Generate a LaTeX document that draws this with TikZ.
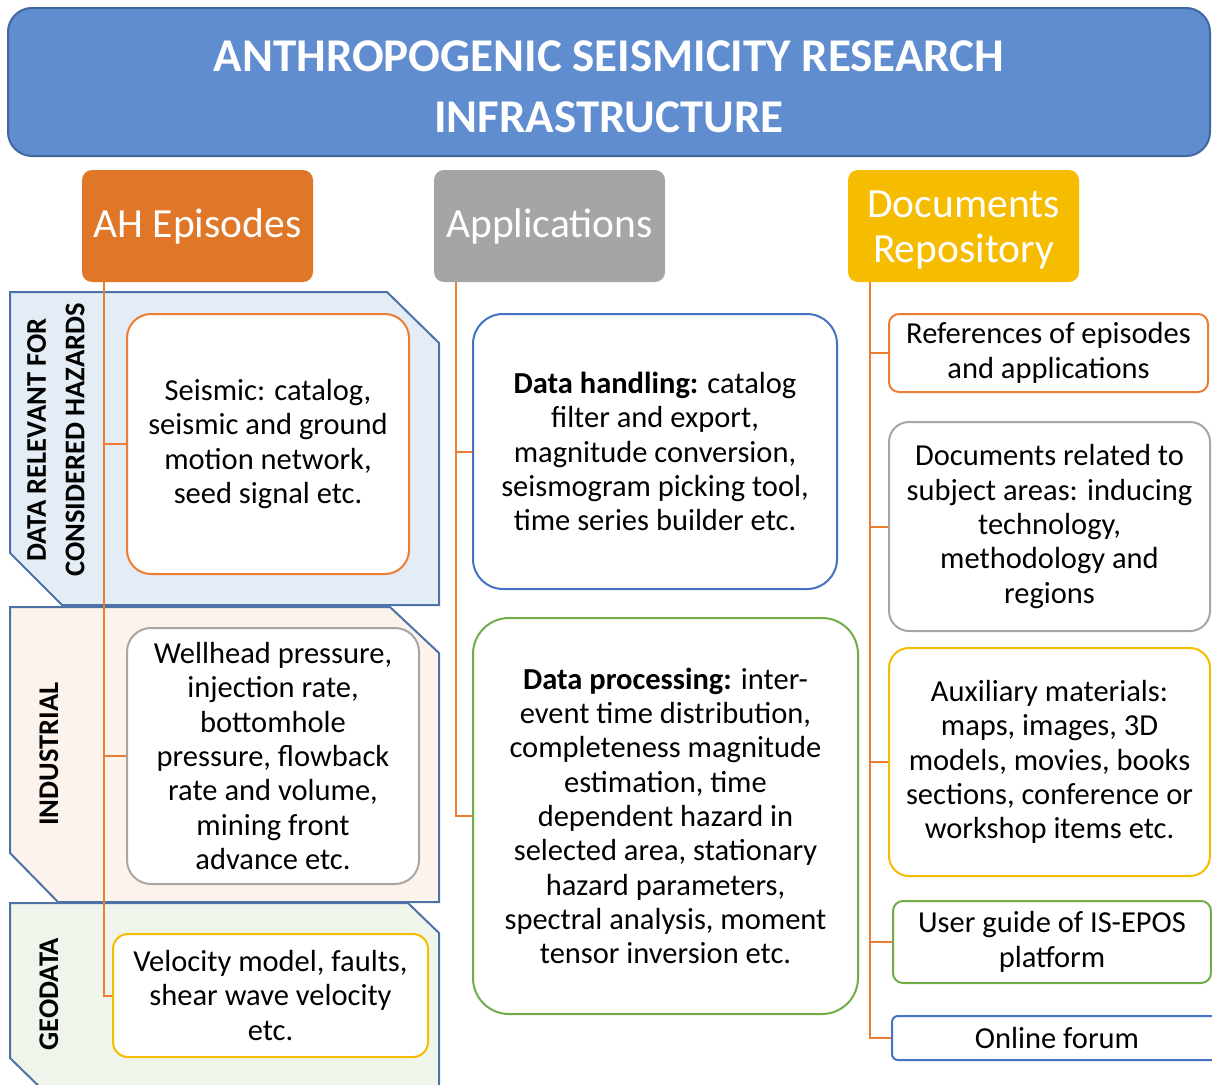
\documentclass[tikz,border=0pt]{standalone}
\usepackage{fontspec}
\setmainfont{Carlito}
\usetikzlibrary{calc}
\definecolor{titlefill}{HTML}{5F8DD0}
\definecolor{titledraw}{HTML}{41679F}
\definecolor{ahorange}{HTML}{E07628}
\definecolor{lineorange}{HTML}{ED7D31}
\definecolor{appgray}{HTML}{A5A5A5}
\definecolor{docgold}{HTML}{F5BC00}
\definecolor{boxblue}{HTML}{4472C4}
\definecolor{boxgreen}{HTML}{70AD47}
\definecolor{boxgray}{HTML}{A6A6A6}
\definecolor{panelblue}{HTML}{E4ECF6}
\definecolor{panelpeach}{HTML}{FCF3EC}
\definecolor{panelgreen}{HTML}{EFF5EA}
\definecolor{paneldraw}{HTML}{4E72A8}
\begin{document}
\begin{tikzpicture}[x=1pt,y=-1pt,
  head/.style={rounded corners=10pt, text=white, align=center,
    font=\fontsize{41.5}{45}\selectfont, minimum width=231pt, minimum height=112pt, inner sep=0pt},
  tbox/.style={draw, rounded corners=24pt, fill=white, line width=2pt, align=center,
    font=\fontsize{30.5}{34.3}\selectfont, inner sep=0pt},
  conn/.style={draw=lineorange, line width=2pt},
  panel/.style={draw=paneldraw, line width=2pt},
  plabel/.style={rotate=90, align=center, font=\fontsize{28.5}{38.5}\selectfont\bfseries}
]
\useasboundingbox (0,0) rectangle (1212,1084);
\clip (0,0) rectangle (1212,1084);

% title
\node[draw=titledraw, line width=2pt, fill=titlefill, rounded corners=24pt,
  minimum width=1202pt, minimum height=148pt, inner sep=0pt, text=white, align=center,
  font=\fontsize{47}{61}\selectfont\bfseries] (title) at (609,82)
  {\rule{0pt}{41pt}ANTHROPOGENIC SEISMICITY RESEARCH\\INFRASTRUCTURE};

% headers
\node[head, fill=ahorange] (ah) at (197.5,226) {AH Episodes};
\node[head, fill=appgray] (app) at (549.5,226) {Applications};
\node[head, fill=docgold] (doc) at (963.5,226) {\rule{0pt}{34pt}Documents\\Repository};

% panels
\path[panel, fill=panelblue] (10,292) -- (387,292) -- (439,343) -- (439,605) -- (62,605) -- (10,553) -- cycle;
\path[panel, fill=panelpeach] (10,607) -- (390,607) -- (439,653) -- (439,902) -- (58,902) -- (10,853) -- cycle;
\path[panel, fill=panelgreen] (10,903) -- (408,903) -- (439,933) -- (439,1100) -- (53,1100) -- (10,1058) -- cycle;

\node[plabel] (p1) at (56,440) {DATA RELEVANT FOR\\CONSIDERED HAZARDS};
\node[plabel] (p2) at (49,754) {INDUSTRIAL};
\node[plabel] (p3) at (49,994) {GEODATA};

% left boxes
\node[tbox, draw=lineorange, minimum width=282pt, minimum height=260pt] (seis) at (268,444)
  {Seismic: catalog,\\seismic and ground\\motion network,\\seed signal etc.};
\node[tbox, draw=boxgray, minimum width=292pt, minimum height=256pt] (well) at (273,756)
  {Wellhead pressure,\\injection rate,\\bottomhole\\pressure, flowback\\rate and volume,\\mining front\\advance etc.};
\node[tbox, draw=docgold, rounded corners=15pt, minimum width=315pt, minimum height=123pt] (velo) at (270.5,995.5)
  {Velocity model, faults,\\shear wave velocity\\etc.};

% middle boxes
\node[tbox, draw=boxblue, rounded corners=30pt, minimum width=364pt, minimum height=275pt] (dh) at (655,451.5)
  {\textbf{Data handling:} catalog\\filter and export,\\magnitude conversion,\\seismogram picking tool,\\time series builder etc.};
\node[tbox, draw=boxgreen, rounded corners=36pt, minimum width=385pt, minimum height=396pt] (dp) at (665.5,816)
  {\textbf{Data processing:} inter-\\event time distribution,\\completeness magnitude\\estimation, time\\dependent hazard in\\selected area, stationary\\hazard parameters,\\spectral analysis, moment\\tensor inversion etc.};

% right boxes
\node[tbox, draw=lineorange, rounded corners=10pt, minimum width=319pt, minimum height=78pt] (ref) at (1048.5,353)
  {References of episodes\\and applications};
\node[tbox, draw=boxgray, rounded corners=20pt, minimum width=321pt, minimum height=209pt] (drel) at (1049.5,526.5)
  {Documents related to\\subject areas: inducing\\technology,\\methodology and\\regions};
\node[tbox, draw=docgold, rounded corners=20pt, minimum width=321pt, minimum height=228pt] (aux) at (1049.5,762)
  {Auxiliary materials:\\maps, images, 3D\\models, movies, books\\sections, conference or\\workshop items etc.};
\node[tbox, draw=boxgreen, rounded corners=10pt, minimum width=318pt, minimum height=82pt] (ug) at (1052,942)
  {User guide of IS-EPOS\\platform};
\node[tbox, draw=boxblue, rounded corners=6pt, minimum width=330pt, minimum height=44pt] (of) at (1057,1038)
  {Online forum};

% connectors
\coordinate (ahT) at ([xshift=22pt]ah.south west);
\coordinate (appT) at ([xshift=22pt]app.south west);
\coordinate (docT) at ([xshift=22pt]doc.south west);
\draw[conn] (ahT) |- (velo.west);
\draw[conn] (seis.west) -- (seis.west -| ahT);
\draw[conn] (well.west) -- (well.west -| ahT);
\draw[conn] (appT) |- (dp.west);
\draw[conn] (dh.west) -- (dh.west -| appT);
\draw[conn] (docT) |- (of.west);
\draw[conn] (ref.west) -- (ref.west -| docT);
\draw[conn] (drel.west) -- (drel.west -| docT);
\draw[conn] (aux.west) -- (aux.west -| docT);
\draw[conn] (ug.west) -- (ug.west -| docT);
\end{tikzpicture}
\end{document}
